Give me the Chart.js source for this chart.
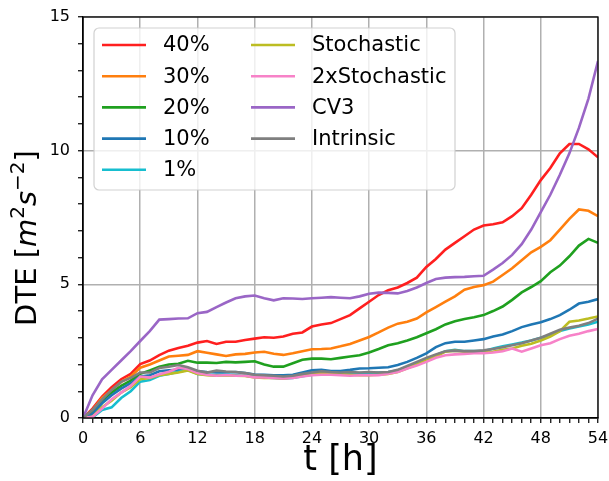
<!DOCTYPE html>
<html>
<head>
<meta charset="utf-8">
<script src="https://cdn.jsdelivr.net/npm/chart.js@4.4.1/dist/chart.umd.min.js"></script>
<style>
  html, body { margin: 0; padding: 0; background: #fff; }
</style>
</head>
<body>
<canvas id="chart" width="609" height="481"></canvas>
<script>
// hours since start
const hours = [0, 1, 2, 3, 4, 5, 6, 7, 8, 9, 10, 11, 12, 13, 14, 15, 16, 17, 18, 19, 20,
  21, 22, 23, 24, 25, 26, 27, 28, 29, 30, 31, 32, 33, 34, 35, 36, 37, 38, 39, 40,
  41, 42, 43, 44, 45, 46, 47, 48, 49, 50, 51, 52, 53, 54];

const seriesNames = ['40%', '30%', '20%', '10%', '1%', 'Stochastic', '2xStochastic', 'CV3', 'Intrinsic'];
const seriesColors = ['#ff1f1f', '#ff7f0e', '#1fa01f', '#1f77b4', '#17becf', '#bcbd22', '#f782c8', '#9a66c6', '#7f7f7f'];

// DTE values [m^2 s^-2], one per hour
const dte40 = [0, 0.35, 0.8, 1.15, 1.45, 1.65, 2.02, 2.15, 2.35, 2.52, 2.62, 2.7, 2.82, 2.88, 2.77, 2.85,
  2.85, 2.92, 2.97, 3.02, 3.0, 3.05, 3.15, 3.2, 3.42, 3.5, 3.55, 3.7, 3.85, 4.1, 4.35, 4.6, 4.78, 4.88,
  5.05, 5.25, 5.65, 5.95, 6.3, 6.55, 6.8, 7.05, 7.2, 7.25, 7.32, 7.55, 7.85, 8.35, 8.9, 9.35, 9.9,
  10.25, 10.25, 10.05, 9.75];
const dte30 = [0, 0.3, 0.75, 1.05, 1.35, 1.55, 1.88, 2.0, 2.15, 2.3, 2.33, 2.36, 2.5, 2.44, 2.38, 2.32,
  2.38, 2.4, 2.45, 2.48, 2.4, 2.36, 2.42, 2.5, 2.57, 2.58, 2.6, 2.68, 2.77, 2.9, 3.03, 3.2, 3.38, 3.53,
  3.6, 3.72, 3.95, 4.15, 4.35, 4.55, 4.8, 4.9, 4.97, 5.1, 5.35, 5.6, 5.9, 6.2, 6.4, 6.65, 7.05, 7.45,
  7.8, 7.75, 7.55];
const dte20 = [0, 0.25, 0.65, 0.95, 1.2, 1.4, 1.65, 1.78, 1.92, 2.0, 2.03, 2.14, 2.07, 2.07, 2.06, 2.1,
  2.08, 2.1, 2.12, 2.0, 1.92, 1.92, 2.05, 2.18, 2.22, 2.22, 2.2, 2.25, 2.3, 2.35, 2.45, 2.58, 2.72, 2.8,
  2.9, 3.02, 3.17, 3.32, 3.5, 3.62, 3.7, 3.77, 3.85, 4.0, 4.17, 4.42, 4.7, 4.9, 5.12, 5.45, 5.7, 6.05,
  6.45, 6.7, 6.55];
const dte10 = [0, 0.15, 0.55, 0.85, 1.1, 1.3, 1.55, 1.6, 1.75, 1.78, 1.8, 1.85, 1.75, 1.72, 1.7, 1.7,
  1.72, 1.68, 1.63, 1.62, 1.6, 1.6, 1.62, 1.7, 1.78, 1.8, 1.76, 1.76, 1.8, 1.85, 1.86, 1.88, 1.9, 1.98,
  2.1, 2.25, 2.42, 2.65, 2.8, 2.85, 2.85, 2.9, 2.95, 3.05, 3.12, 3.25, 3.4, 3.5, 3.58, 3.7, 3.85, 4.05,
  4.28, 4.35, 4.45];
const dte1 = [0, 0.02, 0.3, 0.4, 0.75, 1.0, 1.36, 1.42, 1.58, 1.65, 1.73, 1.8, 1.65, 1.62, 1.6, 1.62,
  1.6, 1.58, 1.55, 1.52, 1.5, 1.48, 1.5, 1.56, 1.62, 1.66, 1.66, 1.65, 1.66, 1.68, 1.66, 1.7, 1.72, 1.78,
  1.92, 2.06, 2.2, 2.35, 2.5, 2.55, 2.5, 2.5, 2.5, 2.6, 2.68, 2.75, 2.82, 2.9, 3.0, 3.1, 3.25, 3.35,
  3.42, 3.5, 3.6];
const dteStoch = [0, 0.05, 0.4, 0.65, 0.95, 1.15, 1.45, 1.5, 1.6, 1.65, 1.7, 1.78, 1.65, 1.6, 1.58, 1.6,
  1.58, 1.57, 1.52, 1.5, 1.5, 1.48, 1.52, 1.58, 1.65, 1.68, 1.65, 1.64, 1.62, 1.6, 1.6, 1.62, 1.65, 1.72,
  1.86, 2.0, 2.15, 2.3, 2.48, 2.52, 2.48, 2.45, 2.45, 2.48, 2.55, 2.6, 2.7, 2.78, 2.9, 3.05, 3.25, 3.6,
  3.65, 3.72, 3.8];
const dte2xStoch = [0, 0.05, 0.35, 0.7, 0.95, 1.2, 1.55, 1.51, 1.64, 1.73, 1.88, 1.83, 1.68, 1.62, 1.58,
  1.61, 1.58, 1.58, 1.52, 1.52, 1.5, 1.48, 1.5, 1.55, 1.6, 1.62, 1.62, 1.6, 1.58, 1.6, 1.6, 1.6, 1.66,
  1.72, 1.85, 1.96, 2.1, 2.25, 2.35, 2.38, 2.4, 2.42, 2.42, 2.45, 2.5, 2.6, 2.48, 2.6, 2.72, 2.8, 2.95,
  3.08, 3.15, 3.25, 3.33];
const dteCV3 = [0, 0.85, 1.45, 1.8, 2.15, 2.5, 2.88, 3.25, 3.68, 3.7, 3.72, 3.73, 3.92, 3.97, 4.15, 4.32,
  4.48, 4.55, 4.58, 4.48, 4.4, 4.48, 4.47, 4.45, 4.48, 4.5, 4.52, 4.5, 4.48, 4.55, 4.65, 4.69, 4.68, 4.66,
  4.75, 4.88, 5.05, 5.2, 5.25, 5.27, 5.28, 5.3, 5.32, 5.55, 5.8, 6.1, 6.5, 7.05, 7.7, 8.35, 9.1, 9.9,
  10.85, 11.95, 13.35];
const dteIntrinsic = [0, 0.3, 0.7, 1.05, 1.35, 1.5, 1.7, 1.7, 1.87, 1.92, 1.98, 1.9, 1.77, 1.7, 1.77, 1.74,
  1.72, 1.68, 1.62, 1.6, 1.58, 1.55, 1.58, 1.65, 1.7, 1.75, 1.72, 1.7, 1.72, 1.7, 1.72, 1.7, 1.72, 1.8,
  1.95, 2.1, 2.25, 2.38, 2.5, 2.52, 2.5, 2.5, 2.53, 2.58, 2.65, 2.72, 2.8, 2.9, 3.0, 3.15, 3.3, 3.38,
  3.45, 3.55, 3.72];

const seriesValues = [dte40, dte30, dte20, dte10, dte1, dteStoch, dte2xStoch, dteCV3, dteIntrinsic];

const xMajorStep = 6;
const yMajorStep = 5;

// closed box around the plotting area
const framePlugin = {
  id: 'frame',
  afterDraw(chart) {
    const {ctx, chartArea: a} = chart;
    ctx.save();
    ctx.strokeStyle = '#000';
    ctx.lineWidth = 1.3;
    ctx.strokeRect(a.left, a.top, a.right - a.left, a.bottom - a.top);
    ctx.restore();
  }
};

// y axis title with italic units and superscripts
const yTitlePlugin = {
  id: 'yTitle',
  afterDraw(chart) {
    const {ctx} = chart;
    const size = 29;
    const parts = [
      {text: 'DTE [', style: ''},
      {text: 'm', style: 'italic '},
      {text: '2', style: '', sup: true},
      {text: 's', style: 'italic '},
      {text: '\u22122', style: '', sup: true},
      {text: ']', style: ''}
    ];
    const fontFor = p => p.style + (p.sup ? Math.round(size * 0.7) : size) + 'px "DejaVu Sans"';
    ctx.save();
    let total = 0;
    parts.forEach(p => { ctx.font = fontFor(p); p.w = ctx.measureText(p.text).width; total += p.w; });
    ctx.translate(36, 238 + total / 2);
    ctx.rotate(-Math.PI / 2);
    ctx.fillStyle = '#000';
    ctx.textBaseline = 'alphabetic';
    let x = 0;
    parts.forEach(p => {
      ctx.font = fontFor(p);
      ctx.fillText(p.text, x, p.sup ? -size * 0.42 : 0);
      x += p.w;
    });
    ctx.restore();
  }
};

// two-column legend inside the plotting area
const boxLegendPlugin = {
  id: 'boxLegend',
  afterDraw(chart) {
    const {ctx, chartArea: a} = chart;
    const bx = a.left + 11, by = a.top + 11, bw = 361, bh = 162;
    ctx.save();
    ctx.beginPath();
    ctx.roundRect(bx, by, bw, bh, 5);
    ctx.fillStyle = 'rgba(255,255,255,0.8)';
    ctx.fill();
    ctx.strokeStyle = 'rgba(204,204,204,0.9)';
    ctx.lineWidth = 1.2;
    ctx.stroke();
    ctx.font = '21px "DejaVu Sans"';
    ctx.textBaseline = 'middle';
    ctx.fillStyle = '#000';
    chart.data.datasets.forEach((ds, i) => {
      const col = i < 5 ? 0 : 1;
      const row = i < 5 ? i : i - 5;
      const lx = bx + 8 + col * 149;
      const ly = by + 17 + row * 31.2;
      ctx.strokeStyle = ds.borderColor;
      ctx.lineWidth = 2.6;
      ctx.beginPath();
      ctx.moveTo(lx, ly);
      ctx.lineTo(lx + 44, ly);
      ctx.stroke();
      ctx.fillText(ds.label, lx + 61, ly + 1);
    });
    ctx.restore();
  }
};

const tickFont = {family: 'DejaVu Sans', size: 16};

new Chart(document.getElementById('chart'), {
  type: 'line',
  data: {
    labels: hours,
    datasets: seriesNames.map((name, i) => ({
      label: name,
      data: seriesValues[i],
      borderColor: seriesColors[i],
      backgroundColor: seriesColors[i],
      borderWidth: 2.6,
      pointRadius: 0,
      tension: 0,
      fill: false,
      order: seriesNames.length - i
    }))
  },
  options: {
    responsive: false,
    animation: false,
    layout: {padding: {left: 0, top: 17, right: 11, bottom: 0}},
    plugins: {
      legend: {display: false},
      tooltip: {enabled: false}
    },
    scales: {
      x: {
        type: 'linear',
        min: 0,
        max: 54,
        afterFit(scale) {
          scale.height = 63;
          scale.paddingLeft = 0;
          scale.paddingRight = 0;
        },
        ticks: {
          stepSize: 1,
          autoSkip: false,
          maxRotation: 0,
          padding: 6,
          color: '#000',
          font: tickFont,
          callback: v => (v % xMajorStep === 0 ? String(v) : '')
        },
        grid: {
          color: c => (c.tick && c.tick.value % xMajorStep === 0 ? '#b0b0b0' : 'rgba(0,0,0,0)'),
          lineWidth: 1.5,
          tickColor: '#000',
          tickWidth: 1.2,
          tickLength: 5
        },
        border: {color: '#000', width: 1.3},
        title: {
          display: true,
          text: 't [h]',
          color: '#000',
          font: {family: 'DejaVu Sans', size: 35},
          padding: {top: 0, bottom: -1}
        }
      },
      y: {
        min: 0,
        max: 15,
        afterFit(scale) {
          scale.width = 83;
          scale.paddingTop = 0;
          scale.paddingBottom = 0;
        },
        ticks: {
          stepSize: 1,
          autoSkip: false,
          padding: 8,
          color: '#000',
          font: tickFont,
          callback: v => (v % yMajorStep === 0 ? String(v) : '')
        },
        grid: {
          color: c => (c.tick && c.tick.value % yMajorStep === 0 ? '#b0b0b0' : 'rgba(0,0,0,0)'),
          lineWidth: 1.5,
          tickColor: '#000',
          tickWidth: 1.2,
          tickLength: 5
        },
        border: {color: '#000', width: 1.3}
      }
    }
  },
  plugins: [framePlugin, yTitlePlugin, boxLegendPlugin]
});
</script>
</body>
</html>
